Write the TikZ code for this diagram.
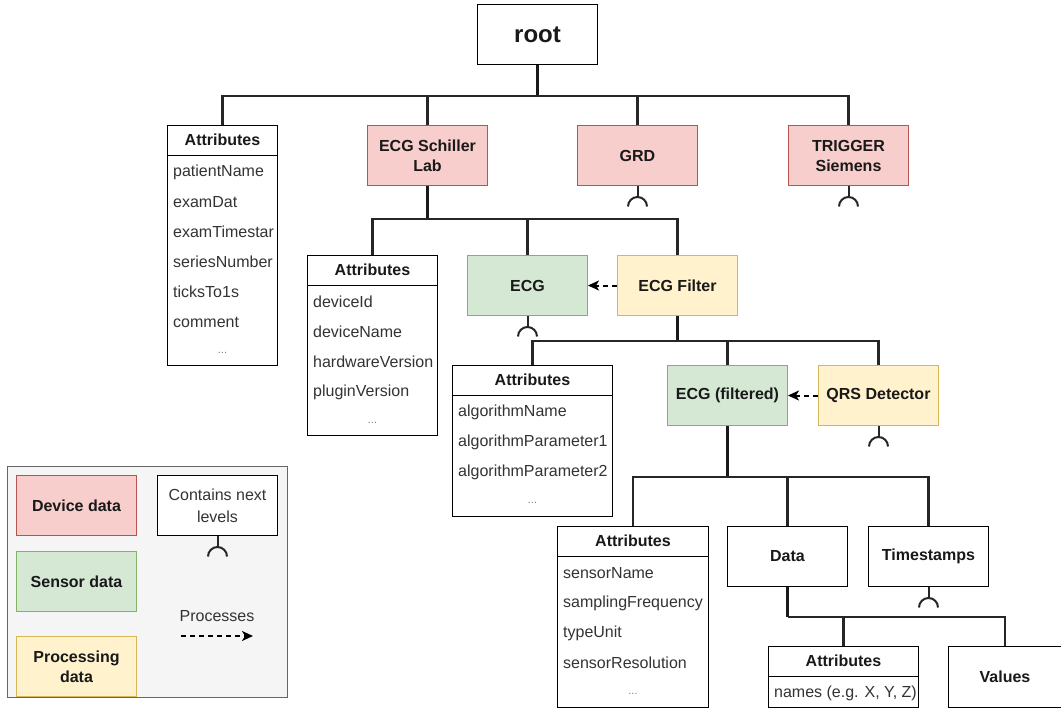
\documentclass[tikz,border=0pt]{standalone}
\usepackage{fontspec}
\setmainfont{Liberation Sans}
\usetikzlibrary{arrows.meta,calc}
\definecolor{devfill}{HTML}{F8CECC}
\definecolor{devline}{HTML}{B85450}
\definecolor{senfill}{HTML}{D5E8D4}
\definecolor{senline}{HTML}{82B366}
\definecolor{profill}{HTML}{FFF2CC}
\definecolor{proline}{HTML}{D6B656}
\definecolor{legfill}{HTML}{F5F5F5}
\definecolor{legline}{HTML}{666666}
\definecolor{txt}{HTML}{333333}
\newcommand{\attrtable}[6]{%
  \node[attrbox={#4}{#5}] (#1) at (#2,#3) {};
  \draw[line width=1pt] ($(#1.north west)+(0,30)$) -- ($(#1.north east)+(0,30)$);
  \node[head] (#1-h) at ($(#1.north)+(0,15)$) {Attributes};
  \foreach \t [count=\i from 0] in {#6}
    \node[row] (#1-r\i) at ($(#1.north west)+(6,47+30*\i)$) {\t};
}
\begin{document}
\begin{tikzpicture}[x=1pt,y=-1pt,
  box/.style={draw=black, line width=1pt, fill=white, minimum width=120pt, minimum height=60pt,
    anchor=north west, align=center, inner sep=0pt, font=\bfseries\fontsize{16}{20}\selectfont, text=black!90},
  dev/.style={box, fill=devfill, draw=devline},
  sen/.style={box, fill=senfill, draw=senline},
  pro/.style={box, fill=profill, draw=proline},
  attrbox/.style 2 args={draw=black, line width=1pt, fill=white, anchor=north west,
    minimum width=#1, minimum height=#2, inner sep=0pt},
  head/.style={font=\bfseries\fontsize{16}{20}\selectfont, anchor=center, inner sep=0pt, text=black!90},
  row/.style={font=\fontsize{16}{20}\selectfont, text=txt, anchor=west, inner sep=0pt},
  dots/.style={font=\fontsize{11}{13}\selectfont, text=gray, anchor=center, inner sep=0pt},
  conn/.style={line width=2.2pt, draw=black!85},
  stem/.style={line width=3.2pt, draw=black!90},
  proc/.style={line width=2pt, dash pattern=on 5pt off 4pt, -{Stealth[length=11pt,width=10pt,inset=3pt]}},
  socket/.pic={\draw[line width=2pt, black!85] (0,0) -- (0pt,-11pt);
               \draw[line width=2pt, black!85] (-9.5pt,-20.5pt) arc[start angle=180,end angle=0,radius=9.5pt];}
]
\useasboundingbox (0,0) rectangle (1061,709);

% ---------- nodes ----------
\node[box, font=\bfseries\fontsize{24}{28}\selectfont] (root) at (477,4) {root};
\attrtable{attrA}{167}{125}{110pt}{240pt}{patientName,examDat,examTimestar,seriesNumber,ticksTo1s,comment}
\node[dots] (attrA-d) at ($(attrA.north)+(0,45+30*6+3)$) {...};
\node[dev] (ecgs) at (367,125) {ECG Schiller\\Lab};
\node[dev] (grd) at (577,125) {GRD};
\node[dev] (trig) at (788,125) {TRIGGER\\Siemens};

\attrtable{attrB}{307}{255}{130pt}{180pt}{deviceId,deviceName,hardwareVersion,pluginVersion}
\node[dots] (attrB-d) at ($(attrB.north)+(0,45+30*4+3)$) {...};
\node[sen] (ecg) at (467,255) {ECG};
\node[pro] (filt) at (617,255) {ECG Filter};

\attrtable{attrC}{452}{365}{160pt}{151pt}{algorithmName,algorithmParameter1,algorithmParameter2}
\node[dots] (attrC-d) at ($(attrC.north)+(0,45+30*3+3)$) {...};
\node[sen] (ecgf) at (667,365) {ECG (filtered)};
\node[pro] (qrs) at (818,365) {QRS Detector};

\attrtable{attrD}{557}{526}{151pt}{181pt}{sensorName,samplingFrequency,typeUnit,sensorResolution}
\node[dots] (attrD-d) at ($(attrD.north)+(0,45+30*4+3)$) {...};
\node[box] (data) at (727,526) {Data};
\node[box] (ts) at (868,526) {Timestamps};

\attrtable{attrE}{768}{646}{150pt}{61pt}{{names (e.g. X, Y, Z)}}
\node[box, minimum width=113pt, minimum height=61pt] (values) at (948,646) {Values};

% ---------- tree connectors ----------
\coordinate (j0) at ($(root.south)+(0,31)$);
\draw[stem] (root.south) -- (j0);
\foreach \c in {attrA,ecgs,grd,trig} \draw[conn] (j0) -| (\c.north);

\coordinate (j1) at ($(ecgs.south)+(0,33)$);
\draw[stem] (ecgs.south) -- (j1);
\foreach \c in {attrB,ecg,filt} \draw[conn] (j1) -| (\c.north);

\coordinate (j2) at ($(filt.south)+(0,25)$);
\draw[stem] (filt.south) -- (j2);
\foreach \c in {attrC,ecgf,qrs} \draw[conn] (j2) -| (\c.north);

\coordinate (j3) at ($(ecgf.south)+(0,51)$);
\draw[stem] (ecgf.south) -- (j3);
\foreach \c in {attrD,data,ts} \draw[conn] (j3) -| (\c.north);

\coordinate (j4) at ($(data.south)+(0,30)$);
\draw[stem] (data.south) -- (j4);
\foreach \c in {attrE,values} \draw[conn] (j4) -| (\c.north);

% ---------- sockets ----------
\foreach \c in {grd,trig,ecg,qrs,ts} \pic at (\c.south) {socket};

% ---------- process arrows ----------
\draw[proc] (filt.west) -- (ecg.east);
\draw[proc] (qrs.west) -- (ecgf.east);

% ---------- legend ----------
\node[draw=legline, line width=1pt, fill=legfill, anchor=north west, minimum width=280pt,
      minimum height=231pt, inner sep=0pt] (legend) at (7,466) {};
\node[dev] (ldev) at (16,475) {Device data};
\node[sen] (lsen) at (16,551) {Sensor data};
\node[pro] (lpro) at (16,636) {Processing\\data};
\node[box, font=\fontsize{16}{22}\selectfont, text=txt] (lcont) at (157,475) {Contains next\\levels};
\pic at (lcont.south) {socket};
\node[font=\fontsize{16}{20}\selectfont, text=txt, inner sep=0pt] (lproc) at (217,616) {Processes};
\coordinate (lpa) at (181,636);
\coordinate (lpb) at (253,636);
\draw[proc] (lpa) -- (lpb);
\end{tikzpicture}
\end{document}
